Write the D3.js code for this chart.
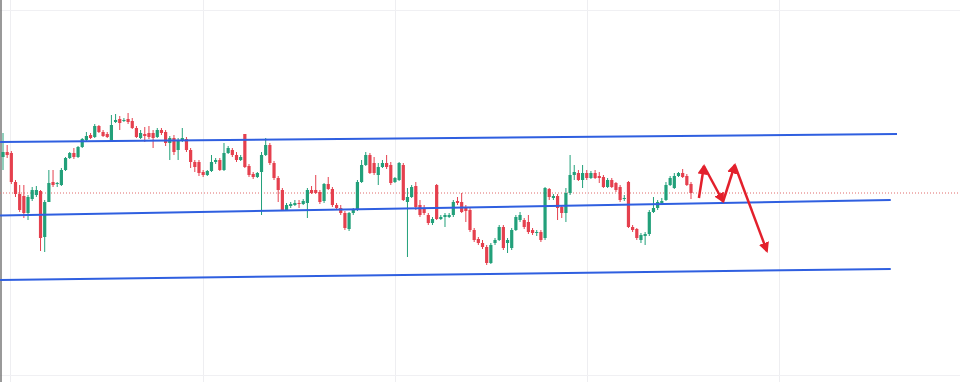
<!DOCTYPE html>
<html><head><meta charset="utf-8">
<script src="https://cdn.jsdelivr.net/npm/d3@7"></script>
<style>html,body{margin:0;padding:0;background:#fff;}svg{display:block;}</style>
</head><body>
<script>
const opens = [243,248,247,218,206,204,187,201,205,209,163,198,218,216,215,230,242,247,243,253,260,265,263,274,268,266,260,278,281,279,281,279,272,262,266,267,267,263,270,268,257,262,250,259,261,250,238,238,228,225,229,238,240,230,247,250,245,240,266,234,226,223,228,245,255,237,222,210,190,194,195,197,196,197,210,210,208,199,216,211,195,192,187,171,187,190,218,235,245,237,225,233,237,235,218,220,235,198,203,214,195,192,185,177,215,181,183,183,185,199,198,192,190,170,161,157,153,137,157,160,173,157,152,170,180,180,178,170,167,168,162,211,202,204,193,187,207,225,227,220,227,222,227,224,223,213,220,217,213,201,218,173,171,160,164,166,188,192,197,200,215,212,224,227,224,216];
const highs = [267,255,249,220,215,215,205,213,214,210,200,230,230,218,232,243,248,252,254,262,268,267,276,275,270,268,285,286,284,282,287,282,274,270,273,274,270,272,272,270,264,265,262,272,263,252,240,240,230,230,245,242,242,257,254,252,248,245,266,236,228,228,248,262,257,239,224,212,197,198,200,200,201,212,214,225,210,217,223,213,197,195,189,188,192,220,240,248,247,243,237,240,245,238,223,238,237,212,215,218,200,195,187,183,216,185,187,187,200,203,207,195,192,172,163,160,155,157,162,175,175,162,172,185,188,182,185,172,170,170,213,212,206,206,195,212,245,235,230,235,230,229,230,228,225,222,222,218,215,205,219,175,172,167,168,190,203,200,202,218,224,227,228,231,226,218];
const lows = [230,242,216,203,188,182,180,199,203,149,148,215,213,213,214,229,241,241,242,252,259,261,262,267,263,262,259,277,270,278,276,271,262,261,258,261,252,262,265,254,240,245,240,258,248,232,228,224,223,224,228,236,229,229,246,243,238,239,232,223,221,222,185,244,235,220,198,189,189,192,194,192,195,182,206,206,196,197,210,193,190,185,170,169,185,189,217,234,226,225,215,232,231,215,217,219,199,143,202,190,183,185,175,175,180,180,173,182,183,195,187,178,168,158,155,151,135,136,155,159,150,147,150,169,178,171,166,165,164,158,160,200,200,180,182,178,205,220,219,212,220,221,221,217,212,212,212,208,198,199,172,168,160,157,155,164,187,190,195,199,214,211,223,222,214,201];
const closes = [248,245,218,206,190,187,203,210,210,162,198,217,215,217,230,242,247,243,253,261,264,262,274,268,264,263,275,280,277,280,278,272,263,267,264,263,262,270,267,257,262,248,260,262,250,238,233,227,225,229,238,240,230,247,252,245,240,243,233,225,223,227,245,255,237,222,210,190,195,196,197,196,199,210,207,207,198,216,211,195,192,187,172,187,190,218,235,245,227,227,233,237,233,217,222,237,200,203,213,193,185,187,177,181,181,183,185,185,198,197,188,189,170,160,157,153,137,155,160,173,152,160,170,183,185,173,168,167,168,160,212,203,204,192,187,207,225,228,220,227,222,227,222,222,213,220,213,210,200,202,173,170,162,165,166,188,192,198,199,215,222,224,227,223,215,207];

// channel lines: [startIndex, startPrice, endIndex, endPrice]
const channelLines = [
  [-0.7, 258, 214.4, 266],
  [-0.7, 184.5, 212.9, 200],
  [-0.7, 120, 212.9, 131]
];
// projected path (index, price)
const arrowPath = [[166.9, 202], [168.1, 234], [172.7, 198.5], [175.5, 235], [183.2, 149]];
const timeGrid = [1.7, 48, 94, 140, 186];
const priceGrid = [390, 25];

const W = 960, H = 382;
const svg = d3.select("body").append("svg").attr("width", W).attr("height", H);
const x = d3.scaleLinear().domain([0, 165]).range([3, 691]);
const y = d3.scaleLinear().domain([18, 400]).range([H, 0]);

const up = "#22a07a", down = "#e5404e";

// grid
svg.append("g").selectAll("line").data(timeGrid).join("line")
  .attr("x1", d => Math.round(x(d)) + 0.5).attr("x2", d => Math.round(x(d)) + 0.5)
  .attr("y1", 0).attr("y2", H).attr("stroke", "#eeeef1").attr("stroke-width", 1);
svg.append("g").selectAll("line").data(priceGrid).join("line")
  .attr("x1", 0).attr("x2", W)
  .attr("y1", d => Math.round(y(d)) + 0.5).attr("y2", d => Math.round(y(d)) + 0.5)
  .attr("stroke", "#f0f0f3").attr("stroke-width", 1);
// left border
svg.append("line").attr("x1", 1).attr("x2", 1).attr("y1", 0).attr("y2", H)
  .attr("stroke", "#777").attr("stroke-width", 1.5);

// last price dotted line
svg.append("line").attr("x1", 0).attr("x2", W)
  .attr("y1", y(closes[closes.length - 1])).attr("y2", y(closes[closes.length - 1]))
  .attr("stroke", "#e06a6a").attr("stroke-width", 1).attr("stroke-dasharray", "1,2");

// candles
const data = opens.map((o, i) => ({i, o, h: highs[i], l: lows[i], c: closes[i]}));
const g = svg.append("g");
g.selectAll("line.wick").data(data).join("line").attr("class", "wick")
  .attr("x1", d => x(d.i)).attr("x2", d => x(d.i))
  .attr("y1", d => y(d.h)).attr("y2", d => y(d.l))
  .attr("stroke", d => d.c >= d.o ? up : down).attr("stroke-width", 1);
g.selectAll("rect.body").data(data).join("rect").attr("class", "body")
  .attr("x", d => x(d.i) - 1.6).attr("width", 3.2)
  .attr("y", d => y(Math.max(d.o, d.c)))
  .attr("height", d => Math.max(1, Math.abs(y(d.o) - y(d.c))))
  .attr("fill", d => d.c >= d.o ? up : down);

// channel lines
svg.append("g").selectAll("line").data(channelLines).join("line")
  .attr("x1", d => x(d[0])).attr("y1", d => y(d[1]))
  .attr("x2", d => x(d[2])).attr("y2", d => y(d[3]))
  .attr("stroke", "#2f5fe0").attr("stroke-width", 2);

// arrows
const defs = svg.append("defs");
defs.append("marker").attr("id", "ah").attr("viewBox", "0 0 10 10")
  .attr("refX", 8).attr("refY", 5).attr("markerWidth", 4.2).attr("markerHeight", 4.2)
  .attr("markerUnits", "strokeWidth").attr("orient", "auto")
  .append("path").attr("d", "M0,0 L10,5 L0,10 z").attr("fill", "#e3202c");
const segs = d3.pairs(arrowPath);
svg.append("g").selectAll("line").data(segs).join("line")
  .attr("x1", d => x(d[0][0])).attr("y1", d => y(d[0][1]))
  .attr("x2", d => x(d[1][0])).attr("y2", d => y(d[1][1]))
  .attr("stroke", "#e3202c").attr("stroke-width", 2.5).attr("marker-end", "url(#ah)");
</script>
</body></html>
